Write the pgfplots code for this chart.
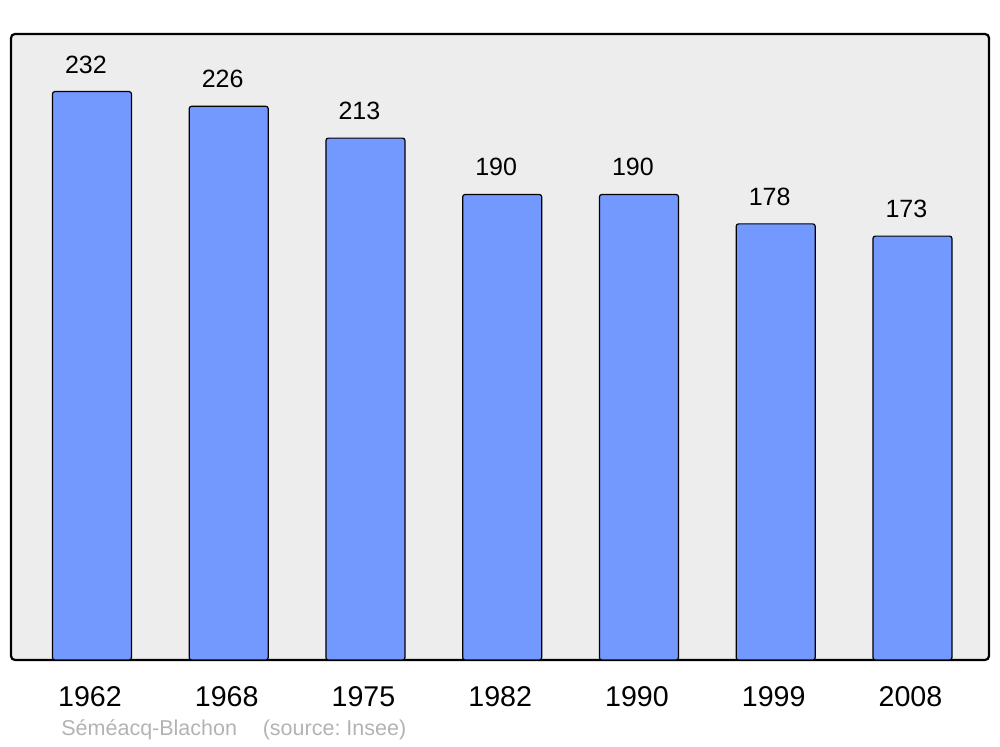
\documentclass[border=0pt]{standalone}
\usepackage{pgfplots}
\pgfplotsset{compat=1.18}
\usepackage{fontspec}
\setmainfont{Liberation Sans}
\frenchspacing
\definecolor{barblue}{HTML}{7399FF}
\definecolor{bggray}{HTML}{EDEDED}
\definecolor{srcgray}{HTML}{B3B3B3}
\begin{document}
\begin{tikzpicture}
  \path[use as bounding box] (0pt,0pt) rectangle (500pt,373.5pt);
  \begin{axis}[
    at={(5.5pt,43.5pt)}, anchor=south west,
    scale only axis,
    width=489pt, height=313pt,
    xmin=-0.592, xmax=6.56,
    ymin=0, ymax=255.5,
    axis line style={draw=none},
    axis background/.style={fill=bggray, draw=black, line width=1.1pt, rounded corners=2pt},
    ytick=\empty,
    xtick=data,
    xticklabels={1962,1968,1975,1982,1990,1999,2008},
    major tick length=0pt,
    xticklabel style={font=\fontsize{14.3}{17}\selectfont, yshift=-9.5pt, xshift=-1pt},
    /pgf/number format/assume math mode=true,
    ybar,
    bar width=39.5pt,
    nodes near coords,
    every node near coord/.append style={font=\fontsize{12.5}{15}\selectfont, yshift=5.5pt, xshift=-3pt},
  ]
    \addplot[fill=barblue, draw=black, line width=0.6pt, rounded corners=1.2pt] coordinates {
      (0,232) (1,226) (2,213) (3,190) (4,190) (5,178) (6,173)
    };
  \end{axis}
  \node[anchor=west, text=srcgray, font=\fontsize{10.75}{12}\selectfont, inner sep=0pt] at (30.5pt,8.5pt) {Séméacq-Blachon\hspace{1.2em}(source: Insee)};
\end{tikzpicture}
\end{document}
